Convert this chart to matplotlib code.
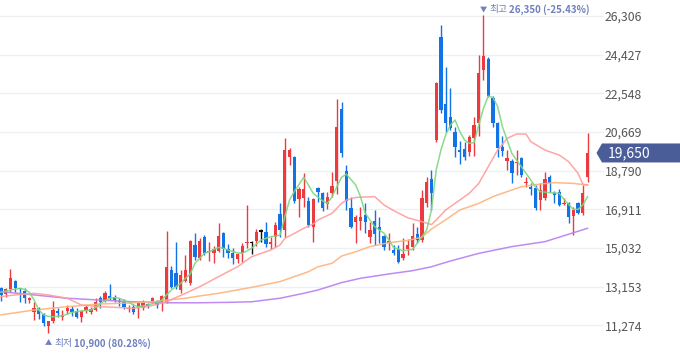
import numpy as np
import matplotlib
matplotlib.use('Agg')
import matplotlib.pyplot as plt
from matplotlib.patches import Polygon
from matplotlib.transforms import IdentityTransform

plt.rcParams['font.family'] = ['Noto Sans CJK KR', 'DejaVu Sans']

# 일봉 데이터 (시가, 고가, 저가, 종가)
opens = [13070, 12780, 13020, 13440, 13100, 12940, 12500, 11910, 12130, 11810,
         11260, 11500, 11990, 11690, 11970, 12050, 11970, 11660, 11970, 11910,
         12020, 12590, 12500, 12720, 12670, 12460, 12420, 12070, 12180, 12100,
         12130, 12260, 12420, 12460, 12340, 12340, 13950, 13800, 13000, 13450,
         13310, 15180, 14530, 15580, 14820, 14800, 14900, 15780, 14970, 14800,
         14480, 14770, 15260, 15260, 15390, 15830, 15830, 15230, 15580, 16680,
         15910, 19470, 19470, 17400, 17480, 17320, 16040, 17960, 17720, 17150,
         17720, 18300, 21770, 18750, 16960, 16310, 16360, 16640, 15580, 16360,
         16040, 15620, 15260, 14930, 14970, 14530, 14970, 15100, 15710, 15420,
         17200, 18370, 20280, 25300, 22030, 21380, 20650, 19790, 19830, 19710,
         20360, 21120, 23680, 24220, 22310, 21090, 19920, 19280, 19280, 19150,
         19390, 18170, 17980, 17960, 17360, 17450, 18500, 17720, 17770, 17170,
         17200, 16590, 17230, 16720, 18500]
highs = [13120, 13100, 14010, 13480, 13100, 13070, 12670, 12420, 12180, 11860,
         11500, 12460, 12130, 12020, 12260, 12210, 12100, 12020, 12260, 12180,
         12620, 12720, 12940, 13270, 12750, 12620, 12540, 12260, 12290, 12420,
         12500, 12340, 12670, 12500, 12750, 15860, 14150, 15300, 13950, 14700,
         15420, 15740, 15500, 15650, 15340, 15130, 16230, 15830, 15230, 15020,
         14800, 15290, 17120, 15390, 15940, 15940, 16310, 15580, 16310, 17200,
         20360, 19880, 19500, 18010, 18660, 17530, 17450, 18010, 17770, 17770,
         18740, 22260, 22140, 19080, 17530, 16640, 17040, 17230, 16310, 16880,
         16550, 15660, 15740, 15180, 15180, 15500, 15450, 16230, 16070, 17850,
         18500, 18820, 23120, 25870, 23840, 22790, 20930, 20250, 20200, 20520,
         21380, 24410, 26350, 24330, 22420, 21170, 20470, 19790, 19340, 19790,
         19470, 18500, 18170, 18090, 18170, 18740, 18580, 17800, 17880, 17450,
         17280, 17040, 17280, 18090, 20640]
lows = [12470, 12670, 12910, 12910, 12420, 12370, 12340, 11530, 11560, 11240,
        10900, 11370, 11680, 11530, 11810, 11740, 11610, 11450, 11860, 11820,
        11970, 12100, 12420, 12500, 12420, 12210, 12050, 11910, 11810, 11610,
        12020, 12100, 12340, 12100, 11970, 12340, 13100, 13050, 12850, 13400,
        13250, 14450, 14450, 14690, 14420, 14290, 14850, 14610, 14530, 14250,
        14320, 14370, 15020, 14740, 15150, 15340, 15100, 14970, 15100, 15580,
        15580, 19070, 17200, 16550, 17040, 16070, 15340, 17280, 16850, 16910,
        17530, 17660, 19470, 16880, 15990, 15260, 15910, 15740, 15260, 15180,
        15260, 14930, 14930, 14690, 14290, 14450, 14690, 14930, 15260, 15340,
        17040, 16880, 20200, 21580, 20690, 20770, 19470, 19110, 19310, 19500,
        19500, 20470, 23200, 22350, 20930, 19470, 19500, 18820, 18210, 18580,
        18500, 18010, 17610, 16880, 16880, 17360, 17770, 17200, 17070, 17120,
        16230, 15660, 16680, 16640, 18260]
closes = [12750, 13020, 13590, 13070, 13020, 12620, 12620, 12130, 11820, 11370,
          11500, 12020, 11890, 11780, 12100, 11910, 11690, 11970, 12150, 12050,
          12420, 12390, 12860, 12590, 12500, 12420, 12180, 12130, 11910, 12340,
          12420, 12230, 12590, 12260, 12720, 14100, 13150, 13150, 13720, 13950,
          15390, 14610, 15370, 14800, 14890, 14970, 15610, 14970, 14770, 14530,
          14740, 15130, 15290, 15260, 15830, 15830, 15230, 15340, 16150, 15910,
          19790, 19790, 17330, 17880, 17880, 16150, 17410, 17770, 16960, 17530,
          18040, 20930, 19660, 17300, 16070, 16550, 16520, 16310, 15910, 15710,
          15910, 15100, 15370, 14800, 14370, 14740, 15180, 15620, 15420, 17450,
          18260, 17720, 23030, 21740, 21090, 20850, 19920, 19680, 19470, 20410,
          21010, 23520, 24380, 22420, 21120, 19880, 19760, 19390, 18660, 19230,
          18580, 18260, 17900, 16960, 17850, 18370, 18170, 17610, 17120, 17230,
          16550, 16880, 16750, 17720, 19650]

# 이동평균선 (읽은 지점)
ma5_x = [0, 2, 4, 5, 6, 7, 8, 9, 10, 11, 13, 15, 17, 19, 20, 21, 23, 24, 25, 27,
         28, 29, 31, 33, 34, 35, 36, 38, 39, 40, 41, 43, 44, 46, 47, 48, 50, 51, 53, 54,
         55, 57, 58, 59, 60, 61, 62, 64, 65, 66, 68, 69, 70, 71, 72, 73, 75, 76, 77, 79,
         81, 82, 83, 85, 87, 88, 90, 91, 92, 93, 94, 95, 96, 97, 98, 99, 100, 101, 102, 103,
         104, 105, 106, 108, 110, 111, 113, 114, 116, 118, 119, 121, 122, 123, 124]
ma5_y = [12880, 12990, 13070, 13020, 12880, 12500, 12020, 11780, 11710, 11690,
         11740, 11900, 11970, 12020, 12130, 12340, 12590, 12620, 12590, 12390,
         12260, 12180, 12260, 12390, 12500, 12750, 12990, 13310, 13560, 13760,
         14290, 14770, 14850, 15060, 15020, 14930, 14800, 14770, 15020, 15230,
         15420, 15580, 15610, 15660, 16550, 17360, 17770, 18470, 18090, 17690,
         17320, 17200, 17530, 18010, 18470, 18620, 18090, 17530, 16720, 16070,
         15740, 15420, 15060, 14900, 14970, 15260, 15910, 16880, 18820, 19790,
         20520, 21010, 21250, 20690, 20280, 20120, 20150, 21010, 21820, 22420,
         22350, 21900, 20930, 19630, 18980, 18660, 18010, 17770, 17720, 17690,
         17400, 16910, 16910, 17120, 17530]
ma20_x = [0, 3, 7, 10, 14, 17, 21, 24, 28, 31, 35, 39, 42, 46, 50, 53, 57, 59, 60, 62,
          64, 66, 67, 70, 72, 73, 75, 79, 81, 83, 86, 89, 91, 92, 94, 96, 99, 101, 103, 105,
          107, 109, 111, 112, 115, 118, 120, 122, 123, 124]
ma20_y = [12670, 12750, 12830, 12750, 12590, 12260, 12180, 12150, 12100, 12180,
          12420, 12830, 13150, 13640, 14120, 14610, 14930, 15180, 15500, 15740,
          15990, 16200, 16390, 16720, 17200, 17360, 17490, 17530, 17120, 16850,
          16500, 16310, 16170, 16390, 16880, 17200, 17690, 18170, 18980, 19790,
          20360, 20570, 20570, 20200, 19790, 19550, 19230, 18660, 18140, 18090]
ma60_x = [0, 7, 14, 21, 28, 32, 35, 39, 42, 46, 53, 59, 61, 65, 67, 70, 72, 75, 78, 82,
          86, 89, 91, 94, 97, 101, 104, 107, 110, 114, 117, 121, 124]
ma60_y = [11780, 12020, 12180, 12310, 12370, 12420, 12500, 12590, 12700, 12830,
          13120, 13400, 13560, 13880, 14120, 14290, 14640, 14850, 15100, 15290,
          15400, 15560, 15950, 16400, 16880, 17200, 17530, 17770, 18010, 18140,
          18210, 18170, 18090]
ma120_x = [0, 7, 14, 21, 28, 35, 42, 48, 53, 59, 64, 67, 72, 76, 82, 87, 91, 95, 101, 108,
           115, 124]
ma120_y = [12910, 12750, 12590, 12500, 12420, 12370, 12370, 12390, 12420, 12590,
           12830, 12990, 13350, 13560, 13770, 13930, 14120, 14400, 14770, 15100,
           15340, 15990]

yticks = [11274, 13153, 15032, 16911, 18790, 20669, 22548, 24427, 26306]
high_idx, high_val, high_txt = 102, 26350, '26,350 (-25.43%)'
low_idx, low_val, low_txt = 10, 10900, '10,900 (80.28%)'
last_price = 19650

UP, DOWN, FLAT = '#ec3a3f', '#1273e6', '#111111'
ANN = '#6f80bd'

fig = plt.figure(figsize=(6.8, 3.58), dpi=100)
ax = fig.add_axes([0, 0, 590 / 680, 1])
ax.set_xlim(-0.21, 124.52)
ax.set_ylim(9686, 27084)

x = np.arange(len(opens))
o = np.array(opens); c = np.array(closes)
cols = [UP if cc > oo else (DOWN if cc < oo else FLAT) for oo, cc in zip(o, c)]

# 격자
for t in yticks:
    ax.axhline(t, xmin=0, xmax=603 / 590, color='#eef0f4', lw=1, zorder=0, clip_on=False)

# 캔들
ax.vlines(x, lows, highs, colors=cols, lw=1, zorder=2)
body_bot = np.minimum(o, c)
body_h = np.maximum(np.abs(c - o), 60)
ax.bar(x, body_h, bottom=body_bot, width=0.7, color=cols, lw=0, zorder=3)

# 이동평균선
ax.plot(ma120_x, ma120_y, color='#b680f2', lw=1.1, alpha=0.9, zorder=4)
ax.plot(ma60_x, ma60_y, color='#ffb27a', lw=1.1, alpha=0.9, zorder=4)
ax.plot(ma20_x, ma20_y, color='#ff9c9c', lw=1.1, alpha=0.9, zorder=4)
ax.plot(ma5_x, ma5_y, color='#7fd77f', lw=1.1, alpha=0.9, zorder=4)

# 축
for s in ax.spines.values():
    s.set_visible(False)
ax.set_xticks([])
ax.yaxis.tick_right()
ax.set_yticks(yticks)
ax.set_yticklabels([f'{t:,}' for t in yticks])
ax.tick_params(axis='y', length=0, pad=10.5, labelsize=8.8, labelcolor='#555555')

# 최고 / 최저 표시
t1 = ax.annotate('▼', xy=(high_idx, high_val), xytext=(0, 4.3), textcoords='offset points',
                 ha='center', va='center', fontsize=5.2, color=ANN)
t2 = ax.annotate('최고', xy=(1, 0.5), xycoords=t1, xytext=(2, 0), textcoords='offset points',
                 ha='left', va='center', fontsize=7.0, color=ANN)
ax.annotate(high_txt, xy=(1, 0.5), xycoords=t2, xytext=(1, 0), textcoords='offset points',
            ha='left', va='center', fontsize=7.0, color=ANN, fontweight='bold')

b1 = ax.annotate('▲', xy=(low_idx, low_val), xytext=(0, -7.2), textcoords='offset points',
                 ha='center', va='center', fontsize=5.2, color=ANN)
b2 = ax.annotate('최저', xy=(1, 0.5), xycoords=b1, xytext=(2, 0), textcoords='offset points',
                 ha='left', va='center', fontsize=7.0, color=ANN)
ax.annotate(low_txt, xy=(1, 0.5), xycoords=b2, xytext=(1, 0), textcoords='offset points',
            ha='left', va='center', fontsize=7.0, color=ANN, fontweight='bold')

# 현재가 태그
fig.canvas.draw()
yc = ax.transData.transform((0, last_price))[1]
x0 = ax.bbox.x1 + 6.5
hh = 9.5
tag = Polygon([(x0, yc), (x0 + 5.5, yc + hh), (680, yc + hh), (680, yc - hh), (x0 + 5.5, yc - hh)],
              closed=True, facecolor='#4a5d98', edgecolor='none', transform=IdentityTransform())
fig.add_artist(tag)
fig.text(x0 + 11, yc, f'{last_price:,}', transform=IdentityTransform(), ha='left', va='center',
         fontsize=10, color='white')

fig.savefig('out.png', dpi=100)
